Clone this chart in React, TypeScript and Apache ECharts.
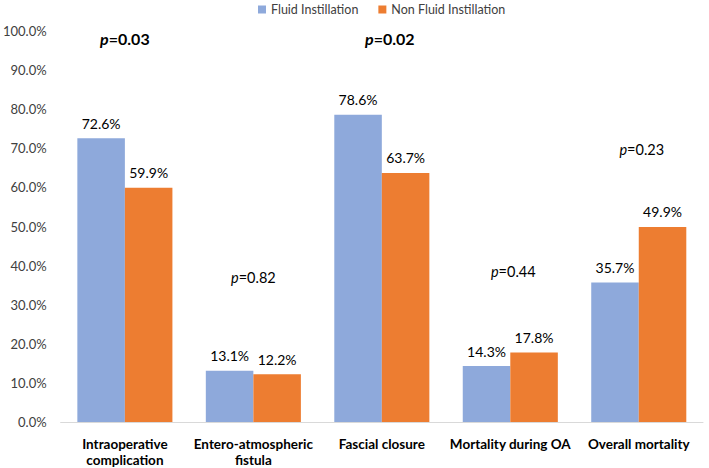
import React, { useEffect, useRef } from "react";
import * as echarts from "echarts";

const categories = [
  "Intraoperative\ncomplication",
  "Entero-atmospheric\nfistula",
  "Fascial closure",
  "Mortality during OA",
  "Overall mortality",
];
const fluidValues = [72.6, 13.1, 78.6, 14.3, 35.7];
const nonFluidValues = [59.9, 12.2, 63.7, 17.8, 49.9];
const seriesNames = ["Fluid Instillation", "Non Fluid Instillation"];
const pValues = ["0.03", "0.82", "0.02", "0.44", "0.23"];
const pBold = [true, false, true, false, false];
const pLevels = [98.2, 37, 98.2, 38.4, 69.7];
const pOffsetX = [0, 0, 8, 3, 3];

const FONT = "Lato, 'Open Sans', sans-serif";

export default function App() {
  const ref = useRef<HTMLDivElement>(null);
  useEffect(() => {
    if (!ref.current) return;
    document.body.style.margin = "0";
    const chart = echarts.init(ref.current, undefined, { renderer: "svg" });
    chart.setOption({
      animation: false,
      textStyle: { fontFamily: FONT },
      legend: {
        top: -2,
        left: 253,
        itemWidth: 8,
        itemHeight: 8,
        itemGap: 20,
        itemTextGap: 4,
        icon: "rect",
        textStyle: { fontSize: 12.5, color: "#404040", fontFamily: FONT },
        data: seriesNames,
      },
      grid: { left: 52, right: 6, top: 31, bottom: 44 },
      xAxis: {
        type: "category",
        data: categories,
        axisLine: { lineStyle: { color: "#D9D9D9", width: 1 } },
        axisTick: { show: false },
        axisLabel: {
          fontWeight: "bold",
          fontSize: 13.5,
          color: "#000",
          margin: 14,
          lineHeight: 16,
          interval: 0,
          fontFamily: FONT,
        },
      },
      yAxis: {
        type: "value",
        min: 0,
        max: 100,
        interval: 10,
        splitLine: { show: false },
        axisLine: { show: false },
        axisTick: { show: false },
        axisLabel: {
          formatter: (v: number) => v.toFixed(1) + "%",
          fontSize: 13,
          color: "#404040",
          margin: 14,
          fontFamily: FONT,
        },
      },
      series: [
        {
          name: seriesNames[0],
          type: "bar",
          data: fluidValues,
          itemStyle: { color: "#8EA9DB" },
          barGap: "0%",
          barCategoryGap: "26%",
          label: {
            show: true,
            position: "top",
            distance: 8,
            fontSize: 14,
            color: "#000",
            fontFamily: FONT,
            formatter: (p: any) => p.value.toFixed(1) + "%",
          },
        },
        {
          name: seriesNames[1],
          type: "bar",
          data: nonFluidValues,
          itemStyle: { color: "#ED7D31" },
          barGap: "0%",
          barCategoryGap: "26%",
          label: {
            show: true,
            position: "top",
            distance: 8,
            fontSize: 14,
            color: "#000",
            fontFamily: FONT,
            formatter: (p: any) => p.value.toFixed(1) + "%",
          },
        },
      ],
    });
    const graphics = pValues.map((pv, i) => {
      const pt = chart.convertToPixel({ xAxisIndex: 0, yAxisIndex: 0 }, [i, pLevels[i]]) as number[];
      const bold = pBold[i];
      return {
        type: "text",
        x: pt[0] + pOffsetX[i],
        y: pt[1],
        style: {
          text: "{p|p}{v|=" + pv + "}",
          align: "center",
          verticalAlign: "middle",
          rich: {
            p: {
              fontStyle: "italic",
              fontWeight: bold ? "bold" : "normal",
              fontSize: bold ? 16 : 14.5,
              fontFamily: FONT,
              fill: "#000",
            },
            v: {
              fontWeight: bold ? "bold" : "normal",
              fontSize: bold ? 16 : 14.5,
              fontFamily: FONT,
              fill: "#000",
            },
          },
        },
      };
    });
    chart.setOption({ graphic: graphics });
    return () => chart.dispose();
  }, []);
  return <div ref={ref} style={{ width: 709, height: 468 }} />;
}
